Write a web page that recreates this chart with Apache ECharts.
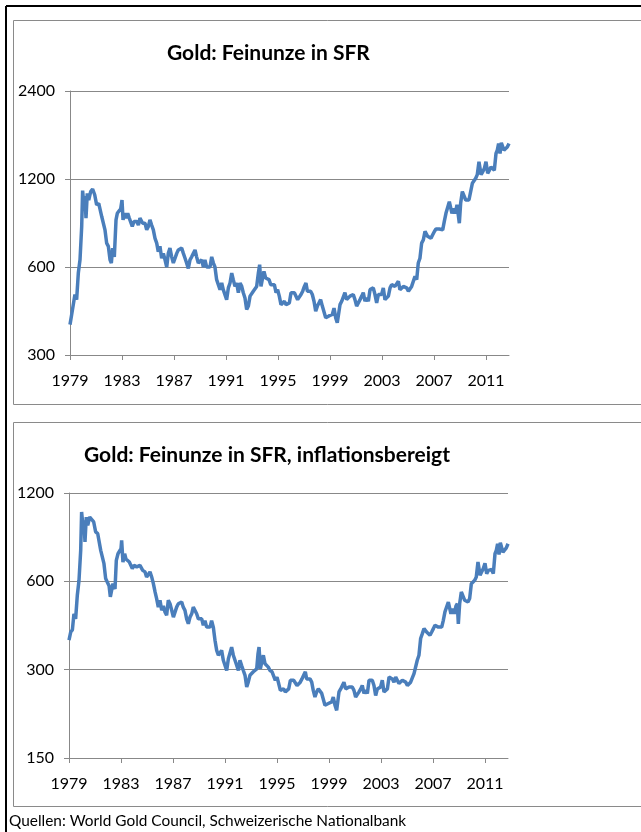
<!DOCTYPE html>
<html lang="de">
<head>
    <meta charset="UTF-8">
    <title>Gold: Feinunze in SFR</title>
    <script src="https://cdn.jsdelivr.net/npm/echarts@6/dist/echarts.min.js"></script>
    <style>
        html, body { margin: 0; padding: 0; background: #fff; }
        #main { width: 641px; height: 832px; }
    </style>
</head>
<body>
    <div id="main"></div>
    <script>
        // Goldpreis pro Feinunze in SFR (nominal)
        let yearsNominal = [1979.00,1979.13,1979.26,1979.38,1979.51,1979.64,1979.77,1979.90,1979.97,1980.08,1980.15,1980.23,1980.33,1980.44,1980.59,1980.74,1980.90,1981.05,1981.21,1981.36,1981.44,1981.56,1981.69,1981.82,1981.95,1982.08,1982.18,1982.28,1982.41,1982.54,1982.64,1982.77,1982.90,1983.00,1983.08,1983.21,1983.31,1983.44,1983.56,1983.69,1983.79,1983.92,1984.13,1984.26,1984.38,1984.59,1984.77,1984.90,1985.03,1985.15,1985.28,1985.41,1985.54,1985.67,1985.79,1985.92,1986.05,1986.18,1986.31,1986.44,1986.56,1986.69,1986.82,1986.95,1987.08,1987.21,1987.33,1987.46,1987.59,1987.72,1987.85,1987.97,1988.10,1988.23,1988.36,1988.49,1988.62,1988.74,1988.87,1989.00,1989.13,1989.26,1989.38,1989.51,1989.64,1989.77,1989.90,1990.03,1990.15,1990.28,1990.41,1990.54,1990.67,1990.79,1990.92,1991.05,1991.18,1991.31,1991.44,1991.56,1991.69,1991.82,1991.95,1992.08,1992.21,1992.33,1992.46,1992.59,1992.72,1992.85,1992.97,1993.10,1993.23,1993.36,1993.49,1993.59,1993.69,1993.79,1993.92,1994.05,1994.18,1994.31,1994.44,1994.59,1994.72,1994.85,1994.97,1995.10,1995.23,1995.36,1995.49,1995.62,1995.74,1995.87,1996.00,1996.13,1996.26,1996.38,1996.51,1996.64,1996.77,1996.90,1997.03,1997.15,1997.26,1997.38,1997.51,1997.64,1997.77,1997.90,1998.03,1998.15,1998.28,1998.41,1998.54,1998.67,1998.79,1998.92,1999.05,1999.18,1999.31,1999.44,1999.56,1999.67,1999.77,1999.90,2000.03,2000.15,2000.28,2000.41,2000.54,2000.67,2000.79,2000.92,2001.05,2001.18,2001.31,2001.44,2001.56,2001.69,2001.82,2001.95,2002.08,2002.21,2002.33,2002.46,2002.59,2002.72,2002.85,2002.97,2003.10,2003.23,2003.36,2003.49,2003.62,2003.74,2003.87,2004.00,2004.13,2004.26,2004.38,2004.51,2004.64,2004.77,2004.90,2005.03,2005.15,2005.28,2005.41,2005.54,2005.67,2005.79,2005.92,2006.05,2006.18,2006.31,2006.38,2006.51,2006.64,2006.77,2006.90,2007.03,2007.15,2007.28,2007.41,2007.54,2007.67,2007.79,2007.92,2008.05,2008.18,2008.28,2008.38,2008.51,2008.64,2008.77,2008.87,2008.95,2009.05,2009.18,2009.31,2009.44,2009.56,2009.69,2009.82,2009.95,2010.08,2010.21,2010.33,2010.46,2010.54,2010.62,2010.74,2010.87,2011.00,2011.13,2011.26,2011.38,2011.51,2011.64,2011.77,2011.87,2011.97,2012.08,2012.18,2012.28,2012.38,2012.51,2012.64,2012.77];
        let goldNominal = [381,413,415,483,464,572,635,826,1095,966,1049,882,1072,1017,1087,1108,1060,979,991,997,893,904,804,724,706,635,619,696,650,870,916,925,950,1017,870,916,882,916,882,870,826,858,858,835,882,847,847,804,826,870,835,804,752,724,677,706,643,668,635,600,668,696,650,619,619,668,686,696,696,668,643,619,593,635,650,668,686,650,619,611,635,600,635,600,593,600,650,619,600,543,522,502,529,502,502,464,509,529,572,543,515,529,490,529,515,490,470,429,441,477,483,496,502,515,572,611,515,543,580,550,550,543,522,515,522,490,502,477,446,452,458,446,441,452,490,483,490,483,464,470,483,496,515,529,496,490,496,483,458,424,441,452,464,441,446,402,402,408,402,413,434,402,387,381,446,458,464,490,464,470,477,477,483,464,441,446,464,477,490,458,470,458,502,509,509,483,452,483,477,483,509,464,458,477,509,522,515,515,522,536,502,496,515,522,509,496,502,515,522,558,543,619,643,724,743,794,804,764,773,752,773,794,809,815,809,800,804,858,916,925,1004,1017,916,950,916,979,991,847,991,1087,1102,1017,1030,1017,1030,1160,1144,1207,1242,1375,1392,1242,1267,1302,1375,1255,1285,1318,1302,1285,1467,1506,1587,1467,1596,1606,1506,1513,1544,1587];

        // inflationsbereinigt
        let yearsReal = [1979.00,1979.13,1979.26,1979.38,1979.51,1979.64,1979.77,1979.90,1979.97,1980.08,1980.15,1980.23,1980.33,1980.44,1980.59,1980.74,1980.90,1981.05,1981.21,1981.36,1981.44,1981.56,1981.69,1981.82,1981.95,1982.08,1982.18,1982.28,1982.38,1982.54,1982.64,1982.77,1982.90,1983.00,1983.05,1983.15,1983.28,1983.38,1983.51,1983.64,1983.77,1983.87,1984.00,1984.21,1984.33,1984.46,1984.67,1984.85,1984.97,1985.10,1985.23,1985.36,1985.49,1985.62,1985.74,1985.87,1986.00,1986.13,1986.26,1986.38,1986.51,1986.64,1986.77,1986.90,1987.03,1987.15,1987.28,1987.41,1987.54,1987.67,1987.79,1987.92,1988.05,1988.18,1988.31,1988.44,1988.56,1988.69,1988.82,1988.95,1989.08,1989.21,1989.33,1989.46,1989.59,1989.72,1989.85,1989.97,1990.10,1990.23,1990.36,1990.49,1990.62,1990.74,1990.87,1991.00,1991.13,1991.26,1991.38,1991.51,1991.64,1991.77,1991.90,1992.03,1992.15,1992.28,1992.41,1992.54,1992.67,1992.79,1992.92,1993.05,1993.18,1993.31,1993.44,1993.54,1993.62,1993.72,1993.82,1993.95,1994.08,1994.21,1994.33,1994.46,1994.62,1994.74,1994.87,1995.00,1995.13,1995.26,1995.38,1995.51,1995.64,1995.77,1995.90,1996.03,1996.15,1996.28,1996.41,1996.54,1996.67,1996.79,1996.92,1997.05,1997.18,1997.28,1997.41,1997.54,1997.67,1997.79,1997.92,1998.05,1998.18,1998.31,1998.44,1998.56,1998.69,1998.82,1998.95,1999.08,1999.21,1999.33,1999.46,1999.59,1999.67,1999.77,1999.90,2000.03,2000.15,2000.28,2000.41,2000.54,2000.67,2000.79,2000.92,2001.05,2001.18,2001.31,2001.44,2001.56,2001.69,2001.82,2001.95,2002.08,2002.21,2002.33,2002.46,2002.59,2002.72,2002.85,2002.97,2003.10,2003.23,2003.36,2003.49,2003.62,2003.74,2003.87,2004.00,2004.13,2004.26,2004.38,2004.51,2004.64,2004.77,2004.90,2005.03,2005.15,2005.28,2005.41,2005.54,2005.67,2005.79,2005.92,2006.05,2006.18,2006.31,2006.38,2006.51,2006.64,2006.77,2006.90,2007.03,2007.15,2007.28,2007.41,2007.54,2007.67,2007.79,2007.92,2008.05,2008.18,2008.28,2008.38,2008.51,2008.64,2008.77,2008.87,2008.95,2009.05,2009.18,2009.31,2009.44,2009.56,2009.69,2009.82,2009.95,2010.08,2010.21,2010.33,2010.46,2010.54,2010.62,2010.74,2010.87,2011.00,2011.13,2011.26,2011.38,2011.51,2011.64,2011.77,2011.87,2011.97,2012.08,2012.18,2012.28,2012.38,2012.51,2012.64,2012.77];
        let goldReal = [378,403,410,465,447,538,605,765,1034,919,968,817,994,931,994,1007,956,884,872,860,765,765,689,613,596,580,531,538,589,565,707,745,755,775,828,698,745,715,725,698,689,663,680,672,663,680,654,646,621,630,646,621,589,552,524,490,517,478,495,472,460,517,503,478,453,460,490,503,510,510,490,478,447,430,453,465,490,495,465,447,441,447,425,441,419,413,419,441,419,378,349,336,331,349,323,327,298,327,331,358,336,323,327,298,323,310,298,287,262,272,287,291,295,298,302,340,358,302,317,336,314,310,306,298,295,291,276,283,269,255,255,258,252,249,258,276,272,276,272,265,269,272,279,287,295,279,276,279,272,255,242,252,258,262,249,252,227,227,230,227,233,242,227,218,215,252,258,262,272,258,262,262,265,262,255,242,245,252,258,265,249,255,249,276,279,276,265,245,258,255,262,276,252,249,258,283,279,279,272,283,287,269,265,276,279,272,265,269,272,276,291,287,323,336,383,398,414,419,403,403,393,403,414,425,425,419,414,419,441,472,478,510,517,465,484,465,495,503,430,503,552,559,517,517,510,524,589,580,605,621,698,703,630,646,663,692,637,654,663,658,637,745,765,806,740,812,818,754,759,780,806];

        let yearTicks = [1979, 1983, 1987, 1991, 1995, 1999, 2003, 2007, 2011];
        let titles = ['Gold: Feinunze in SFR', 'Gold: Feinunze in SFR, inflationsbereigt'];
        let yBase = [300, 150];   // unterster Tick, Achse in Verdopplungen (300/600/1200/2400)
        let source = 'Quellen: World Gold Council, Schweizerische Nationalbank';

        let font = "Lato, 'Noto Sans', sans-serif";
        let lineColor = '#4a7ebb';
        let gridColor = '#888888';

        let chart = echarts.init(document.getElementById('main'), null, { renderer: 'canvas' });

        function toPairs(years, values, base) {
            return years.map(function (y, i) { return [y, values[i] / base]; });
        }

        function xAxisFor(idx) {
            return {
                type: 'value',
                gridIndex: idx,
                min: 1979,
                max: 2012.77,
                axisLine: { lineStyle: { color: gridColor, width: 1 } },
                axisTick: { customValues: yearTicks, length: 5, lineStyle: { color: gridColor } },
                axisLabel: {
                    customValues: yearTicks,
                    color: '#000', fontFamily: font, fontSize: 16, margin: 18,
                    formatter: function (v) { return String(Math.round(v)); }
                },
                splitLine: { show: false }
            };
        }

        function yAxisFor(idx) {
            let base = yBase[idx];
            return {
                type: 'log',
                logBase: 2,
                gridIndex: idx,
                min: 1,
                max: 8,
                axisLine: { show: true, lineStyle: { color: gridColor, width: 1 } },
                axisTick: { show: true, length: 5, lineStyle: { color: gridColor } },
                axisLabel: {
                    color: '#000', fontFamily: font, fontSize: 16, margin: 15,
                    formatter: function (v) { return String(Math.round(v * base)); }
                },
                splitLine: { show: true, lineStyle: { color: gridColor, width: 1 } }
            };
        }

        let option = {
            backgroundColor: '#fff',
            animation: false,
            title: [{
                text: titles[0],
                left: 162,
                top: 38,
                textStyle: { fontFamily: font, fontSize: 21, fontWeight: 'bold', color: '#000' }
            }, {
                text: titles[1],
                left: 79,
                top: 440,
                textStyle: { fontFamily: font, fontSize: 21, fontWeight: 'bold', color: '#000' }
            }, {
                text: source,
                left: 4,
                top: 809,
                textStyle: { fontFamily: font, fontSize: 15.4, fontWeight: 'normal', color: '#000' }
            }],
            grid: [
                { left: 70, top: 91, width: 439, height: 264 },
                { left: 69, top: 493, width: 439, height: 265 }
            ],
            xAxis: [xAxisFor(0), xAxisFor(1)],
            yAxis: [yAxisFor(0), yAxisFor(1)],
            series: [{
                type: 'line',
                xAxisIndex: 0,
                yAxisIndex: 0,
                data: toPairs(yearsNominal, goldNominal, yBase[0]),
                showSymbol: false,
                lineStyle: { color: lineColor, width: 3.5 }
            }, {
                type: 'line',
                xAxisIndex: 1,
                yAxisIndex: 1,
                data: toPairs(yearsReal, goldReal, yBase[1]),
                showSymbol: false,
                lineStyle: { color: lineColor, width: 3.5 }
            }],
            graphic: [
                // Rahmen der beiden Diagramme
                { type: 'rect', shape: { x: 13.5, y: 20.5, width: 700, height: 384 }, style: { fill: null, stroke: '#8a8a8a', lineWidth: 1 }, silent: true },
                { type: 'rect', shape: { x: 13.5, y: 422.5, width: 700, height: 384 }, style: { fill: null, stroke: '#8a8a8a', lineWidth: 1 }, silent: true },
                // äusserer schwarzer Rand
                { type: 'line', shape: { x1: 6, y1: 6, x2: 641, y2: 6 }, style: { stroke: '#000', lineWidth: 2 }, silent: true },
                { type: 'line', shape: { x1: 6, y1: 6, x2: 6, y2: 832 }, style: { stroke: '#000', lineWidth: 2 }, silent: true }
            ]
        };

        chart.setOption(option);
    </script>
</body>
</html>
